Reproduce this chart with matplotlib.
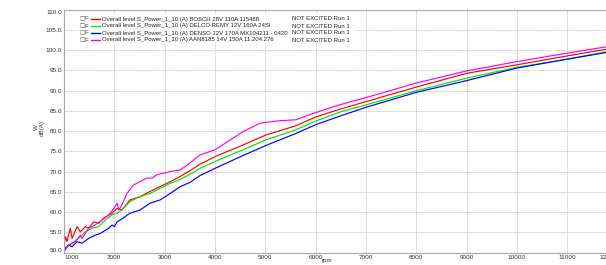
import matplotlib.pyplot as plt
from matplotlib.lines import Line2D
from matplotlib.patches import Rectangle
import numpy as np

plt.rcParams["font.family"] = ["Liberation Sans", "DejaVu Sans"]

# values (rpm -> dB(A))
rpm_red = [1000, 1030, 1060, 1125, 1160, 1260, 1325, 1425, 1490, 1590, 1690, 1790,
           1955, 2055, 2150, 2310, 2510, 2710, 2910, 3110, 3310, 3500, 3700, 4000,
           4560, 5000, 5600, 6000, 6500, 7000, 8000, 9000, 10000, 11000, 11800, 12000]
lvl_red = [51.9, 53.9, 52.7, 56.0, 53.5, 56.4, 55.1, 56.4, 56.0, 57.6, 57.2, 58.5,
           59.7, 60.9, 60.5, 63.0, 63.8, 65.1, 66.3, 67.5, 68.8, 70.2, 71.8, 73.7,
           76.6, 79.0, 81.3, 83.5, 85.5, 87.3, 90.9, 94.3, 96.4, 98.6, 100.3, 100.6]

rpm_green = [1000, 1160, 1290, 1425, 1555, 1690, 1820, 1955, 2055, 2150, 2310, 2510,
             2710, 2910, 3110, 3310, 3500, 3700, 4000, 4560, 5000, 5600, 6000, 6500,
             7000, 8000, 9000, 10000, 11000, 11800, 12000]
lvl_green = [51.0, 52.3, 53.5, 55.1, 56.0, 56.4, 58.0, 59.3, 59.7, 60.5, 62.6, 63.8,
             64.6, 65.9, 67.1, 68.1, 69.3, 70.8, 72.5, 75.4, 77.8, 80.3, 82.5, 84.8,
             86.5, 90.0, 93.1, 95.8, 97.8, 99.7, 100.0]

rpm_blue = [1000, 1095, 1160, 1260, 1360, 1490, 1625, 1720, 1890, 1955, 2000, 2055,
            2150, 2310, 2510, 2710, 2910, 3110, 3310, 3500, 3700, 4000, 4560, 5000,
            5600, 6000, 6500, 7000, 8000, 9000, 10000, 11000, 11800, 12000]
lvl_blue = [50.6, 51.9, 51.4, 52.7, 52.3, 53.5, 54.3, 54.7, 56.0, 56.8, 56.4, 57.6,
            58.3, 59.7, 60.5, 62.2, 63.0, 64.6, 66.3, 67.3, 69.0, 70.8, 74.0, 76.4,
            79.4, 81.6, 83.8, 85.9, 89.6, 92.5, 95.6, 97.8, 99.5, 99.8]

rpm_mag = [1000, 1095, 1225, 1325, 1360, 1490, 1620, 1755, 1890, 1990, 2055, 2090,
           2150, 2250, 2380, 2510, 2645, 2750, 2840, 2975, 3110, 3310, 3500, 3700,
           4000, 4560, 4900, 5300, 5600, 6000, 6500, 7000, 8000, 9000, 10000, 11000,
           11800, 12000]
lvl_mag = [50.2, 51.9, 52.7, 54.3, 53.5, 56.0, 56.8, 58.0, 59.3, 60.9, 62.2, 60.5,
           61.8, 64.6, 66.7, 67.5, 68.4, 68.4, 69.2, 69.6, 70.0, 70.4, 72.1, 74.1,
           75.4, 79.9, 82.0, 82.6, 82.8, 84.6, 86.6, 88.3, 91.9, 94.9, 97.2, 99.3,
           100.9, 101.2]

names = ["Overall level S_Power_1_10 (A) BOSCH 28V 110A 115488",
         "Overall level S_Power_1_10 (A) DELCO REMY 12V 160A 24SI",
         "Overall level S_Power_1_10 (A) DENSO 12V 170A MX104211 - 0420",
         "Overall level S_Power_1_10 (A) AAN8185 14V 150A 11.204.276"]
run_label = "NOT EXCITED Run 1"
colors = ["#ff0000", "#00e600", "#0000ff", "#ff00ff"]

W, H = 606, 265
fig = plt.figure(figsize=(W / 100, H / 100), dpi=100)
ax = fig.add_axes([64 / W, 1 - 252.5 / H, (617.7 - 64) / W, (252.5 - 9.8) / H])


def fx(px):
    return px / W


def fy(py):
    return 1 - py / H


series = [(rpm_red, lvl_red), (rpm_green, lvl_green), (rpm_blue, lvl_blue), (rpm_mag, lvl_mag)]
for (x, y), c in zip(series, colors):
    ax.plot(x, y, color=c, lw=0.85)

ax.set_xlim(1000, 12000)
ax.set_ylim(50, 110)
xt = list(range(1000, 12001, 1000))
yt = np.arange(50, 110.1, 5)
ax.set_xticks(xt)
ax.set_yticks(yt)
ax.set_yticklabels([f"{v:.1f}" for v in yt])
ax.tick_params(length=0, labelsize=4.6, pad=1.5, colors="#333333")
ax.get_yticklabels()[0].set_va("bottom")
ax.get_yticklabels()[-1].set_va("top")
ax.get_xticklabels()[0].set_ha("left")
ax.get_xticklabels()[-1].set_ha("right")
ax.grid(True, color="#b4b4b4", linestyle=(0, (1, 1)), linewidth=0.6)
for s in ax.spines.values():
    s.set_color("#a8a8a8")
    s.set_linewidth(0.8)

# axis titles
fig.text(fx(36), fy(127), "W", rotation=90, ha="center", va="center", fontsize=4.5, color="#333333")
fig.text(fx(42.5), fy(128), "dB(A)", rotation=90, ha="center", va="center", fontsize=4.5, color="#333333")
fig.text(fx(327), fy(258), "rpm", ha="center", va="top", fontsize=4.5, color="#333333")

# legend block
fig.add_artist(Rectangle((fx(77), fy(44)), fx(355) - fx(77), fy(14) - fy(44),
                         transform=fig.transFigure, facecolor="white", edgecolor="none", zorder=1))
rows = [19, 26, 33, 40]
for py, name, c in zip(rows, names, colors):
    fig.text(fx(79), fy(py), "\u25a1", family=["DejaVu Sans"], fontsize=4, va="center", color="#555555", zorder=2)
    fig.text(fx(84), fy(py), "F", fontsize=4.4, va="center", color="#333333", zorder=2)
    fig.add_artist(Line2D([fx(90.5), fx(100)], [fy(py), fy(py)], transform=fig.transFigure,
                          color=c, lw=1.0, zorder=2))
    fig.text(fx(102), fy(py), name, fontsize=4.35, va="center", color="#222222", zorder=2)
    fig.text(fx(292), fy(py), run_label, fontsize=4.35, va="center", color="#222222", zorder=2)

fig.savefig("out.png", dpi=100)
